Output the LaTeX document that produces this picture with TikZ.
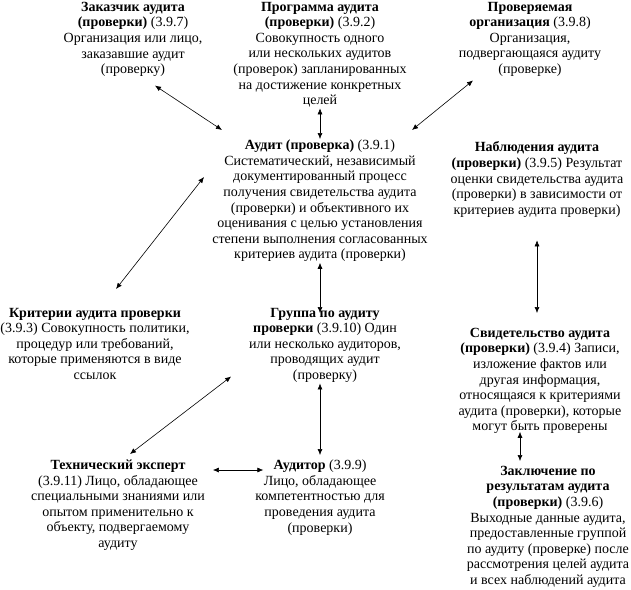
\documentclass[tikz,border=0pt]{standalone}
\usepackage{fontspec}
\setmainfont{Liberation Serif}
\usetikzlibrary{arrows.meta}

\tikzset{
  txt/.style={align=center, inner sep=0.75pt, font=\fontsize{14}{15.6}\selectfont},
  dbl/.style={{Latex[length=6pt,width=5pt]}-{Latex[length=6pt,width=5pt]}, line width=0.6pt}
}

\begin{document}
\begin{tikzpicture}[x=1pt,y=1pt,yscale=-1,xscale=1]
\path[use as bounding box] (0,0) rectangle (631,589);

% Text Node
\draw (133,1) node [txt, anchor=north] (zakaz) {\textbf{Заказчик аудита}\\\textbf{(проверки)} (3.9.7)\\Организация или лицо,\\заказавшие аудит\\(проверку)};
% Text Node
\draw (320,1) node [txt, anchor=north] (prog) {\textbf{Программа аудита}\\\textbf{(проверки)} (3.9.2)\\Совокупность одного\\или нескольких аудитов\\(проверок) запланированных\\на достижение конкретных\\целей};
% Text Node
\draw (530,1) node [txt, anchor=north] (prov) {\textbf{Проверяемая}\\\textbf{организация} (3.9.8)\\Организация,\\подвергающаяся аудиту\\(проверке)};
% Text Node
\draw (320,139) node [txt, anchor=north] (audit) {\textbf{Аудит (проверка)} (3.9.1)\\Систематический, независимый\\документированный процесс\\получения свидетельства аудита\\(проверки) и объективного их\\оценивания с целью установления\\степени выполнения согласованных\\критериев аудита (проверки)};
% Text Node
\draw (537,141) node [txt, anchor=north] (nabl) {\textbf{Наблюдения аудита}\\\textbf{(проверки)} (3.9.5) Результат\\оценки свидетельства аудита\\(проверки) в зависимости от\\критериев аудита проверки)};
% Text Node
\draw (95,307) node [txt, anchor=north] (krit) {\textbf{Критерии аудита проверки}\\(3.9.3) Совокупность политики,\\процедур или требований,\\которые применяются в виде\\ссылок};
% Text Node
\draw (325,307) node [txt, anchor=north] (gruppa) {\textbf{Группа по аудиту}\\\textbf{проверки} (3.9.10) Один\\или несколько аудиторов,\\проводящих аудит\\(проверку)};
% Text Node
\draw (540,327) node [txt, anchor=north] (svid) {\textbf{Свидетельство аудита}\\\textbf{(проверки)} (3.9.4) Записи,\\изложение фактов или\\другая информация,\\относящаяся к критериями\\аудита (проверки), которые\\могут быть проверены};
% Text Node
\draw (118,459) node [txt, anchor=north] (tech) {\textbf{Технический эксперт}\\(3.9.11) Лицо, обладающее\\специальными знаниями или\\опытом применительно к\\объекту, подвергаемому\\аудиту};
% Text Node
\draw (320,459) node [txt, anchor=north] (auditor) {\textbf{Аудитор} (3.9.9)\\Лицо, обладающее\\компетентностью для\\проведения аудита\\(проверки)};
% Text Node
\draw (548,465) node [txt, anchor=north] (zakl) {\textbf{Заключение по}\\\textbf{результатам аудита}\\\textbf{(проверки)} (3.9.6)\\Выходные данные аудита,\\предоставленные группой\\по аудиту (проверке) после\\рассмотрения целей аудита\\и всех наблюдений аудита};

%Straight Lines
\draw [dbl] ([xshift=22pt,yshift=8pt]zakaz.south) -- ([xshift=-98pt,yshift=-9pt]audit.north);
%Straight Lines
\draw [dbl] (prog.south) -- (audit.north);
%Straight Lines
\draw [dbl] ([xshift=-57pt,yshift=3pt]prov.south) -- ([xshift=92pt,yshift=-9pt]audit.north);
%Straight Lines
\draw [dbl] ([xshift=-116pt,yshift=38pt]audit.north) -- ([xshift=21pt,yshift=-18pt]krit.north);
%Straight Lines
\draw [dbl] (audit.south) -- ([xshift=-5pt,yshift=6pt]gruppa.north);
%Straight Lines
\draw [dbl] ([xshift=-5pt]gruppa.south) -- ([yshift=-4pt]auditor.north);
%Straight Lines
\draw [dbl] ([xshift=-17pt,yshift=-7pt]gruppa.south west) -- ([xshift=12pt,yshift=-5pt]tech.north);
%Straight Lines
\draw [dbl] ([xshift=7pt,yshift=11pt]tech.north east) -- ([xshift=9pt,yshift=11pt]auditor.north west);
%Straight Lines
\draw [dbl] ([yshift=22pt]nabl.south) -- ([xshift=-3pt,yshift=-14pt]svid.north);
%Straight Lines
\draw [dbl] ([xshift=-20pt,yshift=-3pt]svid.south) -- ([xshift=-28pt,yshift=-4pt]zakl.north);

\end{tikzpicture}
\end{document}
